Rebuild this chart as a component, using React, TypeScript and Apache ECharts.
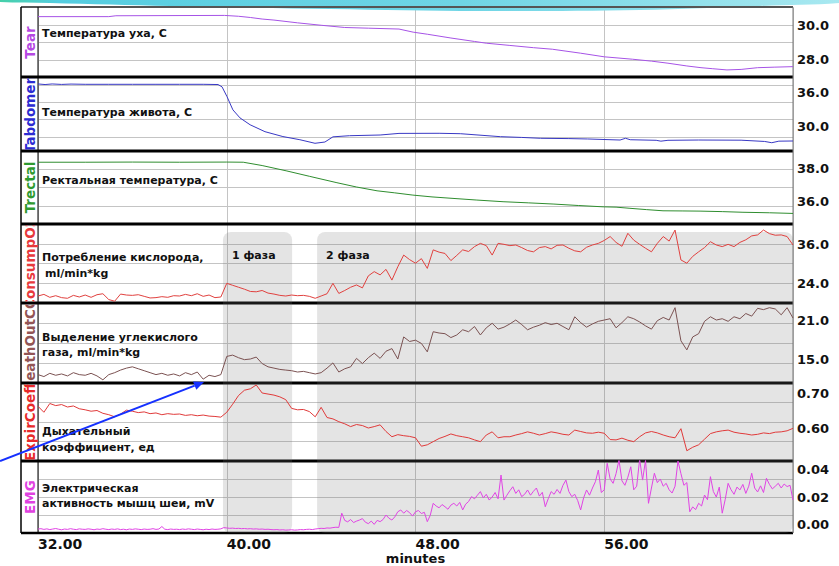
import React, { useEffect, useRef } from "react";
import * as echarts from "echarts";

// ---- recording data -------------------------------------------------------
const T0 = 32; // first sample, minutes
const STEP = 0.25; // O2 / CO2 / RQ sampling step, minutes
const EMG_STEP = 0.125; // EMG sampling step, minutes
const X_MIN = 32;
const X_MAX = 64;
const X_TICK = 8;

// temperatures: [minute, °C]
const earTemp: number[][] = [
  [32, 30.5], [35, 30.5], [35.3, 30.55], [39.9, 30.57], [40.5, 30.52], [41, 30.45],
  [41.5, 30.36], [42, 30.3], [43, 30.14], [44, 30.0], [45, 29.87], [46, 29.83],
  [47.3, 29.78], [47.9, 29.6], [48.5, 29.48], [49.5, 29.26], [50.5, 29.06], [51, 28.96],
  [52, 28.83], [53, 28.7], [53.8, 28.61], [55, 28.38], [56, 28.17], [57.2, 28.03],
  [58, 27.92], [58.7, 27.8], [59.5, 27.64], [60.1, 27.54], [60.6, 27.48], [61.2, 27.41],
  [61.8, 27.44], [62.5, 27.54], [63.2, 27.57], [64, 27.6],
];

const abdomenTemp: number[][] = [
  [32, 37.4], [32.3, 37.3], [32.6, 37.4], [33, 37.32], [33.4, 37.38], [34, 37.34],
  [35, 37.34], [36, 37.34], [37, 37.34], [38, 37.34], [39, 37.34], [39.63, 37.3],
  [39.8, 36.9], [40.01, 35.2], [40.26, 32.9], [40.56, 31.5], [40.99, 30.3], [41.62, 29.1],
  [42.38, 28.25], [43.1, 27.7], [43.74, 27.08], [44.16, 27.3], [44.5, 28.2], [45.2, 28.4],
  [46.5, 28.52], [47.3, 28.8], [49, 28.82], [49.9, 28.75], [51.6, 28.23], [52.5, 28.1],
  [53.3, 27.95], [54.5, 27.9], [55.3, 27.83], [56.67, 27.65], [56.9, 27.95], [57.1, 27.7],
  [58.2, 27.6], [58.4, 27.45], [58.7, 27.6], [60, 27.65], [61.8, 27.62], [62.8, 27.4],
  [63.1, 27.18], [63.4, 27.45], [64, 27.48],
];

const rectalTemp: number[][] = [
  [32, 38.35], [34, 38.35], [36, 38.36], [38, 38.35], [40, 38.36], [40.7, 38.35],
  [41.5, 38.15], [42.55, 37.82], [43.5, 37.5], [44.67, 37.11], [45.5, 36.85], [46.37, 36.62],
  [47.1, 36.5], [47.89, 36.36], [48.7, 36.25], [49.59, 36.16], [50.6, 36.06], [51.71, 35.96],
  [52.8, 35.89], [53.83, 35.82], [54.9, 35.73], [55.95, 35.65], [56.5, 35.63], [57.09, 35.56],
  [57.8, 35.48], [58.49, 35.41], [59.3, 35.4], [60.06, 35.39], [61, 35.36], [61.88, 35.32],
  [63, 35.29], [64, 35.25],
];

// oxygen consumption, ml/min*kg (every 0.25 min from 32)
const o2Consumption: number[] = [
  20.3, 20.8, 19.9, 20.4, 19.8, 19.6, 20.5, 20.0,
  20.6, 19.9, 20.7, 21.0, 19.2, 18.7, 20.9, 20.6,
  20.5, 20.7, 20.2, 19.7, 19.8, 20.1, 19.9, 20.4,
  20.3, 20.8, 20.4, 21.0, 20.2, 20.6, 19.8, 20.0,
  24.2, 23.6, 23.0, 22.4, 21.7, 21.6, 22.0, 21.2,
  20.9, 20.5, 20.3, 20.6, 20.4, 20.5, 20.2, 19.6,
  20.3, 21.0, 24.2, 21.1, 22.0, 23.0, 23.7, 22.8,
  26.5, 27.8, 26.8, 28.5, 25.2, 29.3, 32.9, 31.5,
  30.4, 31.8, 28.8, 34.5, 33.8, 33.4, 31.2, 32.8,
  34.5, 34.0, 35.5, 36.5, 35.8, 32.9, 36.5, 36.2,
  35.8, 36.0, 35.2, 34.3, 33.9, 35.2, 35.5, 34.8,
  35.9, 36.0, 35.0, 34.2, 33.9, 35.3, 36.0, 36.5,
  37.4, 38.6, 36.8, 35.6, 39.6, 37.5, 36.2, 35.0,
  33.9, 36.5, 38.6, 37.2, 40.6, 31.4, 30.4, 32.5,
  33.9, 35.2, 37.0, 36.0, 35.5, 36.2, 35.5, 36.8,
  37.6, 38.8, 39.1, 40.6, 39.5, 39.0, 39.1, 38.6,
  36.0,
];

// CO2 output, ml/min*kg
const co2Output: number[] = [
  12.6, 12.3, 12.8, 12.5, 12.7, 12.4, 12.9, 12.6,
  12.5, 12.8, 12.4, 11.8, 12.6, 12.9, 13.3, 13.6,
  13.8, 13.5, 13.2, 12.9, 12.6, 12.8, 12.5, 12.7,
  12.4, 12.9, 12.6, 13.0, 11.9, 12.5, 12.3, 12.6,
  15.4, 15.6, 15.2, 14.9, 15.0, 15.3, 14.3, 13.8,
  13.6, 13.4, 13.3, 13.2, 13.0, 13.1, 12.9, 12.7,
  12.9, 13.6, 14.4, 13.0, 13.5, 13.8, 15.1, 14.3,
  15.2, 15.9, 15.1, 16.2, 16.6, 15.0, 18.4, 17.7,
  17.9, 17.4, 16.1, 19.2, 19.0, 18.9, 18.3, 18.7,
  19.5, 19.2, 20.0, 18.7, 19.8, 20.5, 19.6, 19.9,
  20.4, 21.0, 20.3, 19.5, 19.9, 20.2, 20.6, 20.3,
  20.5, 20.0, 19.5, 21.5, 20.6, 19.9, 20.4, 20.8,
  21.0, 21.2, 19.8, 20.6, 21.5, 21.2, 20.7, 20.1,
  19.6, 20.9, 21.4, 21.0, 22.9, 17.8, 16.4, 18.4,
  18.9, 20.8, 21.5, 21.0, 21.2, 20.8, 21.5, 21.2,
  22.0, 21.6, 22.8, 22.6, 22.9, 22.7, 21.8, 22.9,
  21.3,
];

// respiratory coefficient
const respQuotient: number[] = [
  0.662, 0.645, 0.67, 0.664, 0.667, 0.66, 0.663, 0.655,
  0.652, 0.648, 0.65, 0.642, 0.638, 0.632, 0.64, 0.651,
  0.648, 0.644, 0.646, 0.641, 0.643, 0.638, 0.641, 0.639,
  0.64, 0.636, 0.638, 0.635, 0.637, 0.634, 0.633, 0.631,
  0.645, 0.668, 0.693, 0.708, 0.712, 0.723, 0.7, 0.697,
  0.694, 0.689, 0.681, 0.656, 0.652, 0.653, 0.647, 0.632,
  0.659, 0.63, 0.626, 0.618, 0.612, 0.604, 0.61, 0.607,
  0.6, 0.604, 0.609, 0.59, 0.575, 0.581, 0.578, 0.576,
  0.572, 0.548, 0.552, 0.561, 0.57, 0.576, 0.583, 0.578,
  0.575, 0.572, 0.566, 0.561, 0.58, 0.589, 0.572, 0.575,
  0.575, 0.58, 0.584, 0.589, 0.585, 0.58, 0.584, 0.589,
  0.586, 0.582, 0.58, 0.594, 0.59, 0.586, 0.585, 0.588,
  0.585, 0.567, 0.566, 0.571, 0.565, 0.561, 0.575, 0.586,
  0.59, 0.586, 0.58, 0.575, 0.572, 0.598, 0.535, 0.545,
  0.552, 0.568, 0.584, 0.589, 0.592, 0.594, 0.588, 0.585,
  0.583, 0.58, 0.582, 0.586, 0.584, 0.588, 0.589, 0.592,
  0.599,
];

// neck muscle EMG, mV (every 0.125 min from 32)
const emgNeck: number[] = [
  0.0022, 0.0024, 0.002, 0.0023, 0.0019, 0.0022, 0.0025, 0.0021, 0.0018, 0.0022, 0.002, 0.0024, 0.0021, 0.0019, 0.0023, 0.0021,
  0.002, 0.0023, 0.0021, 0.0018, 0.0022, 0.002, 0.0024, 0.0021, 0.0019, 0.0022, 0.002, 0.0023, 0.0019, 0.0021, 0.0018, 0.0022,
  0.002, 0.0023, 0.0021, 0.0019, 0.0022, 0.002, 0.0021, 0.0024, 0.002, 0.0022, 0.0036, 0.0021, 0.0019, 0.0022, 0.002, 0.0021,
  0.0019, 0.0022, 0.002, 0.0023, 0.0021, 0.0019, 0.0022, 0.002, 0.0018, 0.0021, 0.0019, 0.0022, 0.002, 0.0021, 0.0023, 0.003,
  0.0028, 0.0026, 0.0027, 0.0025, 0.0026, 0.0024, 0.0025, 0.0023, 0.0024, 0.0022, 0.0023, 0.0021, 0.0022, 0.002, 0.0021, 0.0019,
  0.0018, 0.0019, 0.0017, 0.0018, 0.0016, 0.0017, 0.0018, 0.0016, 0.0017, 0.0019, 0.0018, 0.002, 0.0021, 0.0019, 0.0022, 0.0024,
  0.0026, 0.0025, 0.0028, 0.0027, 0.003, 0.0032, 0.0031, 0.011, 0.007, 0.0062, 0.0075, 0.0058, 0.0066, 0.0072, 0.008, 0.006,
  0.0052, 0.0066, 0.0048, 0.007, 0.0063, 0.0075, 0.01, 0.0082, 0.0072, 0.009, 0.0118, 0.0128, 0.011, 0.0125, 0.0113, 0.0094,
  0.0118, 0.0125, 0.0108, 0.0115, 0.0063, 0.0098, 0.0165, 0.015, 0.014, 0.0158, 0.0146, 0.0132, 0.0155, 0.0165, 0.015, 0.017,
  0.0128, 0.016, 0.0175, 0.0202, 0.019, 0.021, 0.023, 0.0195, 0.0215, 0.0183, 0.02, 0.0225, 0.019, 0.0322, 0.0183, 0.021,
  0.0235, 0.0257, 0.022, 0.024, 0.0202, 0.0215, 0.0239, 0.021, 0.0232, 0.025, 0.0205, 0.0226, 0.0146, 0.019, 0.023, 0.0215,
  0.0242, 0.022, 0.0265, 0.0294, 0.023, 0.0202, 0.0215, 0.018, 0.0128, 0.0195, 0.0239, 0.021, 0.025, 0.0285, 0.035, 0.0225,
  0.024, 0.0387, 0.03, 0.0276, 0.033, 0.0405, 0.029, 0.0265, 0.031, 0.0368, 0.024, 0.026, 0.041, 0.0294, 0.0405, 0.0165,
  0.025, 0.0332, 0.028, 0.03, 0.026, 0.0276, 0.024, 0.0222, 0.026, 0.04, 0.033, 0.0265, 0.028, 0.0118, 0.0145, 0.013,
  0.0165, 0.015, 0.0211, 0.0185, 0.0313, 0.023, 0.02, 0.0255, 0.011, 0.0185, 0.0276, 0.024, 0.0215, 0.0255, 0.0239, 0.027,
  0.022, 0.026, 0.0332, 0.025, 0.0228, 0.0262, 0.0225, 0.0304, 0.027, 0.0245, 0.026, 0.0276, 0.025, 0.0272, 0.0258, 0.0265,
  0.0183,
];

// cooling phases, minutes
const phaseNames = ["1 фаза", "2 фаза"];
const phaseStart = [39.84, 43.83];
const phaseEnd = [42.77, 64];

// ---- layout & styling -----------------------------------------------------
const FONT = '"DejaVu Sans", Verdana, sans-serif';
const W = 839;
const H = 566;
const FRAME_L = 21;
const PLOT_L = 38;
const PLOT_R = 793;
const TOP_EDGE = 7;

const onGrid = (vals: number[], step: number) => vals.map((v, k) => [T0 + k * step, v]);

type Panel = {
  tag: string;
  tagColor: string;
  lineColor: string;
  top: number;
  bottom: number;
  min: number;
  max: number;
  ticks: number[];
  digits: number;
  edgeLabels?: boolean;
  gridFracs: number[];
  notes: { text: string; dx: number; dy: number }[];
  data: number[][];
};

const Q = [0.25, 0.5, 0.75];

const panels: Panel[] = [
  {
    tag: "Tear", tagColor: "#b548e2", lineColor: "#a653e6", top: 8, bottom: 77,
    min: 27, max: 31, ticks: [28, 30], digits: 1, gridFracs: Q,
    notes: [{ text: "Температура уха, С", dx: 0, dy: 25 }], data: earTemp,
  },
  {
    tag: "Tabdomen", tagColor: "#2b2bd2", lineColor: "#3838c4", top: 77, bottom: 151,
    min: 25.74, max: 38.61, ticks: [30, 36], digits: 1, gridFracs: [0.185, 0.428, 0.658, 0.892],
    notes: [{ text: "Температура живота, С", dx: 0, dy: 35 }], data: abdomenTemp,
  },
  {
    tag: "Trectal", tagColor: "#2f9a2f", lineColor: "#2f8d2f", top: 151, bottom: 224,
    min: 34.61, max: 39.03, ticks: [36, 38], digits: 1, gridFracs: Q,
    notes: [{ text: "Ректальная температура, С", dx: 0, dy: 29 }], data: rectalTemp,
  },
  {
    tag: "ConsumpO2", tagColor: "#e8393c", lineColor: "#e0413f", top: 224, bottom: 303,
    min: 18.15, max: 42.46, ticks: [24, 36], digits: 1, gridFracs: Q,
    notes: [
      { text: "Потребление кислорода,", dx: 0, dy: 33 },
      { text: "ml/min*kg", dx: 3, dy: 49 },
    ],
    data: onGrid(o2Consumption, STEP),
  },
  {
    tag: "BreathOutCO2", tagColor: "#935555", lineColor: "#7b5252", top: 303, bottom: 383,
    min: 11.31, max: 23.62, ticks: [15, 21], digits: 1, gridFracs: Q,
    notes: [
      { text: "Выделение углекислого", dx: 0, dy: 34 },
      { text: "газа, ml/min*kg", dx: 0, dy: 49 },
    ],
    data: onGrid(co2Output, STEP),
  },
  {
    tag: "ExpirCoeff", tagColor: "#e82a2a", lineColor: "#e03a3a", top: 383, bottom: 461,
    min: 0.5057, max: 0.7286, ticks: [0.6, 0.7], digits: 2, gridFracs: Q,
    notes: [
      { text: "Дыхательный", dx: 0, dy: 48 },
      { text: "коэффициент, ед", dx: 0, dy: 64 },
    ],
    data: onGrid(respQuotient, STEP),
  },
  {
    tag: "EMG", tagColor: "#e042e0", lineColor: "#e044e4", top: 461, bottom: 533,
    min: 0, max: 0.04, ticks: [0, 0.02, 0.04], digits: 2, edgeLabels: true, gridFracs: Q,
    notes: [
      { text: "Электрическая", dx: 0, dy: 27 },
      { text: "активность мышц шеи, mV", dx: 0, dy: 42 },
    ],
    data: onGrid(emgNeck, EMG_STEP),
  },
];

const N = panels.length;
const LAST = N - 1;
const BOTTOM = panels[LAST].bottom;

function buildOption(): any {
  const grid: any[] = [];
  const xAxis: any[] = [];
  const yAxis: any[] = [];
  const series: any[] = [];

  panels.forEach((p) => {
    grid.push({
      left: PLOT_L, right: W - PLOT_R, top: p.top, height: p.bottom - p.top,
      containLabel: false, outerBoundsMode: "none",
    });
  });
  panels.forEach((p) => {
    grid.push({
      left: FRAME_L, width: PLOT_L - FRAME_L, top: p.top + 1.5, height: p.bottom - p.top - 3,
      containLabel: false, outerBoundsMode: "none",
    });
  });

  panels.forEach((p, i) => {
    const isLast = i === LAST;
    xAxis.push({
      type: "value", gridIndex: i, min: X_MIN, max: X_MAX, interval: X_TICK,
      axisLine: { show: false }, axisTick: { show: false },
      splitLine: { show: true, lineStyle: { color: "#c4c4c4", width: 1 } },
      axisLabel: {
        show: isLast, formatter: (v: number) => v.toFixed(2), align: "left", margin: 4,
        color: "#111", fontFamily: FONT, fontWeight: "bold", fontSize: 14, lineHeight: 14,
        showMaxLabel: false, showMinLabel: true,
      },
      name: isLast ? "minutes" : "", nameLocation: "middle", nameGap: 19, nameMoveOverlap: false,
      nameTextStyle: {
        color: "#111", fontFamily: FONT, fontWeight: "bold", fontSize: 13, lineHeight: 13,
      },
    });
  });
  panels.forEach((_, i) => {
    xAxis.push({ type: "value", gridIndex: N + i, min: 0, max: 1, show: false });
  });

  panels.forEach((p, i) => {
    yAxis.push({
      type: "value", gridIndex: i, position: "right", min: p.min, max: p.max,
      axisLine: { show: false }, axisTick: { show: false }, splitLine: { show: false },
      axisLabel: {
        customValues: p.ticks, margin: 4, color: "#111", fontFamily: FONT,
        fontWeight: "bold", fontSize: 13, lineHeight: 17,
        formatter: (v: number) => {
          const s = v.toFixed(p.digits);
          if (p.edgeLabels && v <= p.min) return s + "\n";
          if (p.edgeLabels && v >= p.max) return "\n" + s;
          return s;
        },
      },
    });
  });
  panels.forEach((_, i) => {
    yAxis.push({ type: "value", gridIndex: i, position: "left", min: 0, max: 1, show: false });
  });
  panels.forEach((_, i) => {
    yAxis.push({ type: "value", gridIndex: N + i, min: 0, max: 1, show: false });
  });

  panels.forEach((p, i) => {
    // horizontal grid lines of the panel
    series.push({
      type: "line", xAxisIndex: i, yAxisIndex: N + i, data: [[X_MIN, 0], [X_MAX, 0]],
      symbol: "none", lineStyle: { opacity: 0, width: 0 }, silent: true, z: 1,
      animation: false,
      markLine: {
        silent: true, symbol: ["none", "none"], label: { show: false }, animation: false,
        lineStyle: { color: "#c4c4c4", width: 1, type: "solid" },
        emphasis: { disabled: true },
        data: p.gridFracs.map((f) => ({ yAxis: f })),
      },
    });
    // the recorded signal
    series.push({
      type: "line", name: p.tag, xAxisIndex: i, yAxisIndex: i, data: p.data,
      symbol: "none", showSymbol: false, silent: true, z: 10, animation: false,
      lineStyle: { color: p.lineColor, width: 1 }, itemStyle: { color: p.lineColor },
      emphasis: { disabled: true },
    });
    // channel name in the left column, clipped to its cell
    series.push({
      type: "custom", coordinateSystem: "cartesian2d", xAxisIndex: N + i, yAxisIndex: 2 * N + i,
      clip: true, silent: true, z: 8, animation: false, data: [[0.5, 0.5]],
      renderItem: (params: any) => {
        const cs = params.coordSys;
        return {
          type: "text",
          x: cs.x + cs.width / 2 + 0.5,
          y: cs.y + cs.height / 2,
          rotation: Math.PI / 2,
          style: {
            text: p.tag, fill: p.tagColor, fontSize: 13.5, fontWeight: "bold", fontFamily: FONT,
            align: "center", verticalAlign: "middle",
          },
        };
      },
    });
  });

  return {
    animation: false,
    backgroundColor: "#ffffff",
    tooltip: { show: false },
    grid, xAxis, yAxis, series,
  };
}

function buildGraphics(px: (t: number) => number): any[] {
  const els: any[] = [];

  // decorative swoosh along the top edge
  els.push({
    type: "polygon", z: 0, silent: true,
    shape: {
      smooth: 0.35,
      points: [[0, 0], [W, 0], [W, 3], [760, 6], [640, 10], [480, 11], [330, 9], [170, 6], [50, 3], [0, 2]],
    },
    style: {
      fill: new echarts.graphic.LinearGradient(0, 0, 1, 0, [
        { offset: 0, color: "#45d0a8" },
        { offset: 0.07, color: "#55cde0" },
        { offset: 0.55, color: "#6fd5e5" },
        { offset: 1, color: "#a8e8f0" },
      ]),
    },
  });

  // frame
  const line = (x1: number, y1: number, x2: number, y2: number, w: number, c: string) => ({
    type: "line", z: 6, silent: true, shape: { x1, y1, x2, y2 }, style: { stroke: c, lineWidth: w },
  });
  els.push(line(FRAME_L, TOP_EDGE, PLOT_R, TOP_EDGE, 2, "#555"));
  panels.slice(1).forEach((p) => els.push(line(FRAME_L, p.top, PLOT_R, p.top, 3, "#000")));
  els.push(line(FRAME_L, BOTTOM, PLOT_R, BOTTOM, 2.5, "#000"));
  els.push(line(FRAME_L, TOP_EDGE, FRAME_L, BOTTOM, 1.5, "#000"));
  els.push(line(PLOT_L, TOP_EDGE, PLOT_L, BOTTOM, 1, "#000"));
  els.push(line(PLOT_R, TOP_EDGE, PLOT_R, BOTTOM, 1, "#777"));

  // shaded phases across the respiration and EMG panels
  const shadeTop = panels[3].top + 8;
  phaseNames.forEach((name, k) => {
    const x1 = px(phaseStart[k]);
    const x2 = px(phaseEnd[k]);
    els.push({
      type: "rect", z: 7, silent: true,
      shape: { x: x1, y: shadeTop, width: x2 - x1, height: BOTTOM - shadeTop, r: 8 },
      style: { fill: "rgba(120,120,120,0.2)" },
    });
    els.push({
      type: "text", z: 12, silent: true, x: x1 + 9, y: shadeTop + 23,
      style: {
        text: name, fill: "#111", font: `bold 11px ${FONT}`,
        verticalAlign: "middle", textVerticalAlign: "middle",
      },
    });
  });

  // panel captions
  panels.forEach((p) => {
    p.notes.forEach((n) => {
      els.push({
        type: "text", z: 12, silent: true, x: PLOT_L + 4 + n.dx, y: p.top + n.dy,
        style: {
          text: n.text, fill: "#111", font: `bold 11px ${FONT}`,
          verticalAlign: "middle", textVerticalAlign: "middle",
        },
      });
    });
  });

  // pointer arrow
  const ax1 = 0, ay1 = 461, ax2 = 204, ay2 = 382;
  const len = Math.hypot(ax2 - ax1, ay2 - ay1);
  const ux = (ax2 - ax1) / len, uy = (ay2 - ay1) / len;
  const hl = 10, hw = 4.5;
  const bx = ax2 - ux * hl, by = ay2 - uy * hl;
  els.push({
    type: "line", z: 20, silent: true,
    shape: { x1: ax1, y1: ay1, x2: bx, y2: by },
    style: { stroke: "#1530ff", lineWidth: 2 },
  });
  els.push({
    type: "polygon", z: 20, silent: true,
    shape: { points: [[ax2, ay2], [bx - uy * hw, by + ux * hw], [bx + uy * hw, by - ux * hw]] },
    style: { fill: "#1530ff" },
  });

  return els;
}

export default function App() {
  const ref = useRef<HTMLDivElement>(null);
  useEffect(() => {
    const el = ref.current;
    if (!el) return;
    // the chart fills the whole page from its top-left corner
    document.body.style.margin = "0";
    document.body.style.overflow = "hidden";
    const chart = echarts.init(el, null, { renderer: "svg" });
    chart.setOption(buildOption());
    const px = (t: number) => chart.convertToPixel({ xAxisIndex: LAST }, t) as number;
    chart.setOption({ graphic: { elements: buildGraphics(px) } });
    return () => chart.dispose();
  }, []);
  return <div ref={ref} style={{ width: W, height: H, background: "#fff" }} />;
}
